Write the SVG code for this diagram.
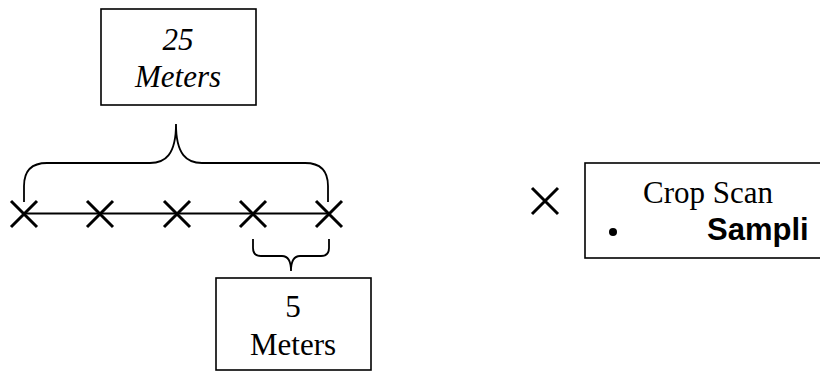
<svg xmlns="http://www.w3.org/2000/svg" width="820" height="374" viewBox="0 0 820 374">
  <style>
    .box { fill: #ffffff; stroke: #000000; stroke-width: 1.6; }
    .brace { fill: none; stroke: #000000; stroke-width: 1.8; }
    .line { fill: none; stroke: #000000; stroke-width: 1.8; }
    .x { fill: none; stroke: #000000; stroke-width: 3; }
    .serif { font-family: "Liberation Serif", "Times New Roman", serif; font-size: 31px; fill: #000000; }
    .ital { font-style: italic; }
    .bold { font-family: "Liberation Sans", Arial, sans-serif; font-size: 31px; font-weight: bold; fill: #000000; }
  </style>
  <defs>
    <g id="xmark">
      <path class="x" d="M -13 -13 L 13 13 M -13 13 L 13 -13"/>
    </g>
  </defs>
  <rect x="0" y="0" width="820" height="374" fill="#ffffff"/>

  <g id="connectors">
    <path class="line" d="M 24 213.5 L 329 213.5"/>
    <path class="brace" d="M 24 202 L 24 186 Q 24 163 47 163 L 150 163 C 165 163 176 155 176 124 C 176 155 187 163 202 163 L 305 163 Q 328 163 328 186 L 328 202"/>
    <path class="brace" d="M 253 239 L 253 248 Q 253 256 261 256 L 282 256 Q 291 256 291 271 Q 291 256 300 256 L 321 256 Q 329 256 329 248 L 329 239"/>
  </g>

  <g id="box-25">
    <rect class="box" x="101" y="9" width="155" height="96"/>
    <text class="serif ital" x="178" y="50" text-anchor="middle">25</text>
    <text class="serif ital" x="178" y="87" text-anchor="middle">Meters</text>
  </g>

  <g id="marks">
    <use href="#xmark" x="24" y="214"/>
    <use href="#xmark" x="100" y="214"/>
    <use href="#xmark" x="177" y="214"/>
    <use href="#xmark" x="253" y="214"/>
    <use href="#xmark" x="329" y="214"/>
  </g>

  <g id="box-5">
    <rect class="box" x="216" y="278" width="155" height="92"/>
    <text class="serif" x="293" y="317" text-anchor="middle">5</text>
    <text class="serif" x="293" y="355" text-anchor="middle">Meters</text>
  </g>

  <g id="legend">
    <use href="#xmark" x="545" y="201"/>
    <rect class="box" x="585" y="163" width="250" height="95"/>
    <text class="serif" x="708" y="203" text-anchor="middle">Crop Scan</text>
    <circle cx="613" cy="232" r="4" fill="#000000"/>
    <text class="bold" x="707" y="240">Sampli</text>
  </g>
</svg>
